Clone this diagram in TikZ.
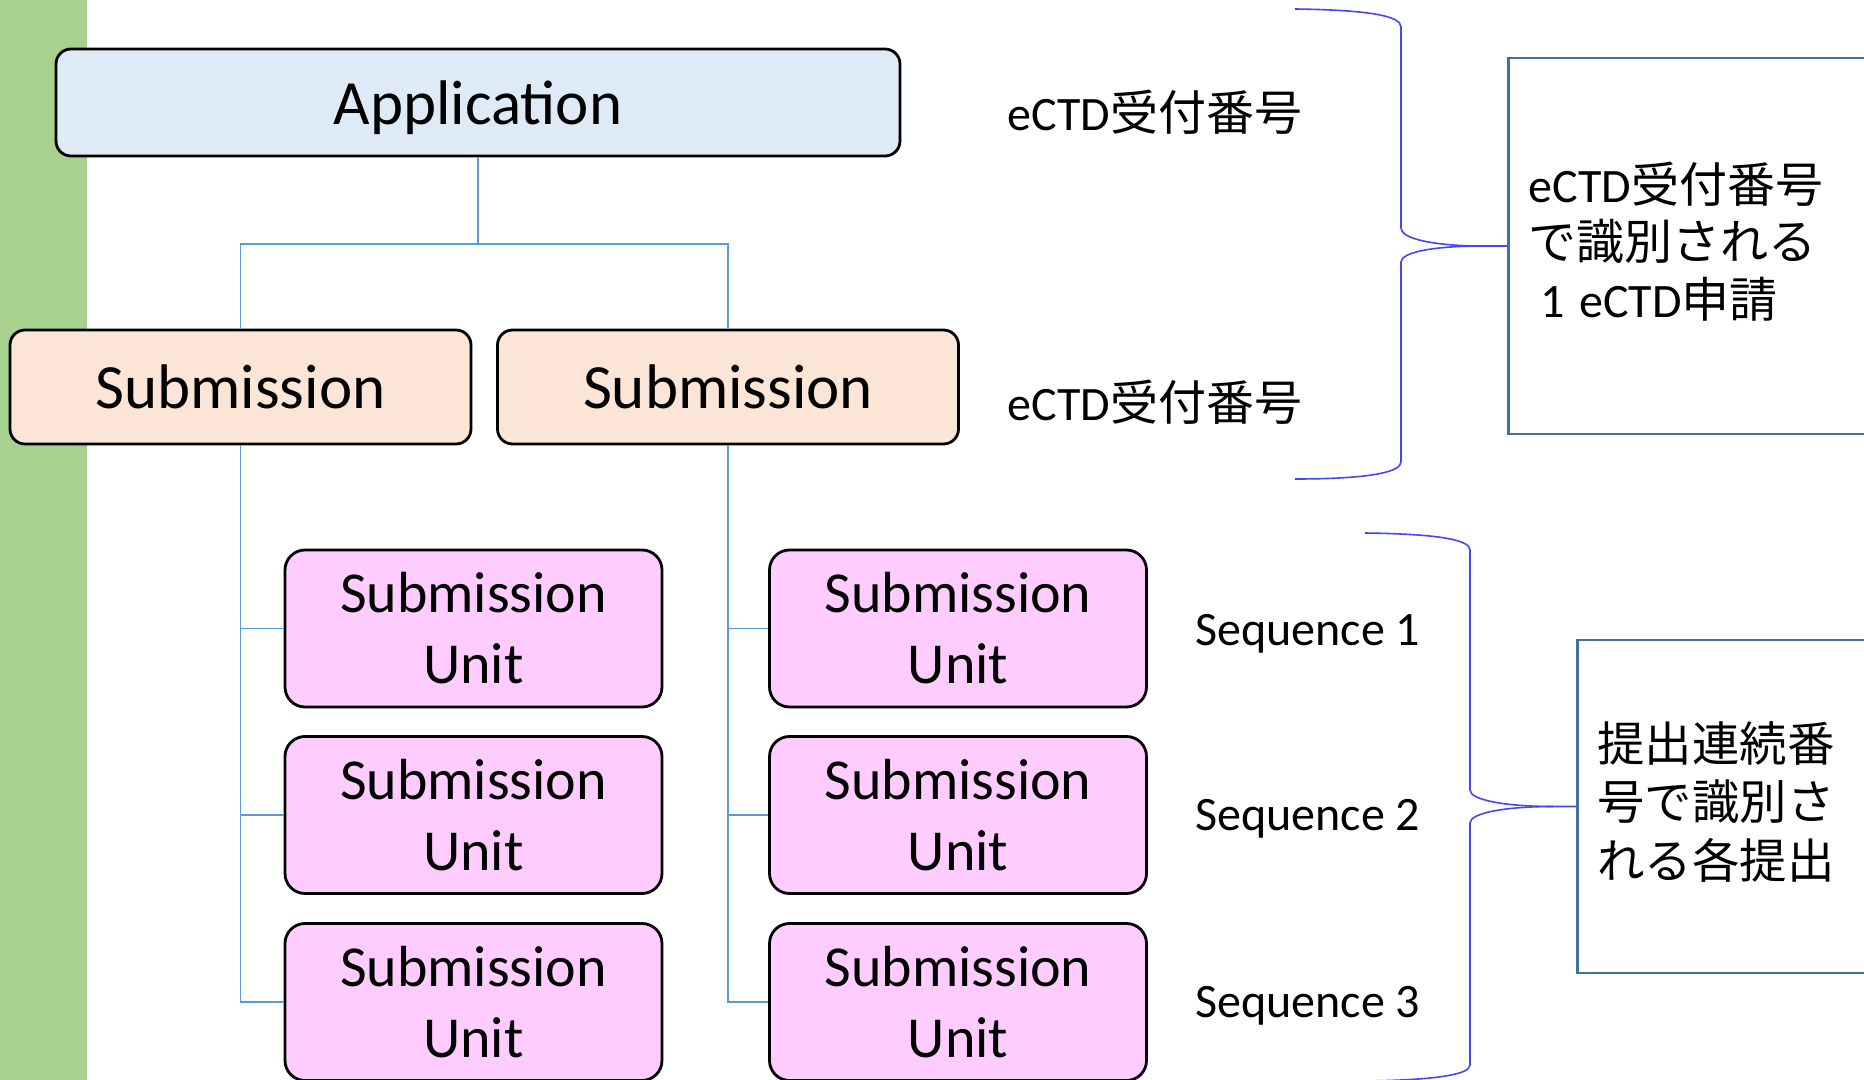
\documentclass[tikz,border=0pt]{standalone}
\usepackage{fontspec}
\setmainfont{Carlito}
\newfontfamily\jp{Noto Sans CJK JP}
\definecolor{appfill}{HTML}{DEEBF7}
\definecolor{subfill}{HTML}{FBE5D6}
\definecolor{sufill}{HTML}{FFCCFF}
\definecolor{barg}{HTML}{A9D18E}
\definecolor{conn}{HTML}{5B9BD5}
\definecolor{bracec}{HTML}{4545FF}
\definecolor{boxb}{HTML}{41719C}
\begin{document}
\begin{tikzpicture}[x=0.5pt,y=-0.5pt,
  appbox/.style={draw=black,line width=1.4pt,rounded corners=7.5pt,fill=appfill,
    minimum width=422pt,minimum height=53.5pt,inner sep=0pt,font=\fontsize{31.5}{38}\selectfont},
  subbox/.style={draw=black,line width=1.4pt,rounded corners=7.5pt,fill=subfill,
    minimum width=230.5pt,minimum height=57pt,inner sep=0pt,font=\fontsize{31.5}{38}\selectfont},
  unitbox/.style={draw=black,line width=1.4pt,rounded corners=10pt,fill=sufill,
    minimum width=188.5pt,minimum height=78.5pt,inner sep=0pt,align=center,font=\fontsize{29}{35.5}\selectfont},
  lab/.style={anchor=west,inner sep=0pt,font=\fontsize{24}{29}\selectfont},
  conline/.style={draw=conn,line width=0.9pt},
  braceline/.style={draw=bracec,line width=0.8pt},
  notebox/.style={draw=boxb,line width=1.4pt,fill=white,anchor=west,
    inner xsep=10pt,inner ysep=0pt}
]
\clip (0,0) rectangle (1864,1080);
\fill[barg] (0,0) rectangle (87,1080);

\node[appbox] (app) at (478,102.5) {\raisebox{-2.4pt}[\height][\depth]{Application}};
\node[subbox] (sub1) at (240.5,387) {Submission};
\node[subbox] (sub2) at (728,387) {Submission};

\foreach \c/\x in {1/473.5,2/958}{
  \node[unitbox] (su\c1) at (\x,628.5) {Submission\\Unit};
  \node[unitbox] (su\c2) at (\x,815) {Submission\\Unit};
  \node[unitbox] (su\c3) at (\x,1002) {Submission\\Unit};
}

\draw[conline] (app.south) -- ++(0,87) -| (sub1.north);
\draw[conline] (app.south) -- ++(0,87) -| (sub2.north);
\draw[conline] (sub1.south) |- (su13.west);
\draw[conline] (sub1.south) |- (su12.west);
\draw[conline] (sub1.south) |- (su11.west);
\draw[conline] (sub2.south) |- (su23.west);
\draw[conline] (sub2.south) |- (su22.west);
\draw[conline] (sub2.south) |- (su21.west);

\node[lab] (l1) at (1007,112) {eCTD{\jp 受付番号}};
\node[lab] (l2) at (1007,402) {eCTD{\jp 受付番号}};
\node[lab] (s1) at (1195,634) {Sequence 1};
\node[lab] (s2) at (1195,819) {Sequence 2};
\node[lab] (s3) at (1195,1006) {Sequence 3};

\node[notebox,minimum height=188pt,font=\fontsize{24}{28.75}\selectfont] (n1) at (1507,246)
  {\raisebox{2.4pt}[\height][\depth]{\parbox{200pt}{\raggedright
   eCTD{\jp 受付番号}\\{\jp で識別される}\\\hspace*{6pt}1\hspace{0.3em}eCTD{\jp 申請}}}};
\node[notebox,minimum height=166.5pt,font=\fontsize{23.7}{29.25}\selectfont] (n2) at (1576,806.5)
  {\raisebox{2.4pt}[\height][\depth]{\parbox{200pt}{\raggedright
   {\jp 提出連続番}\\{\jp 号で識別さ}\\{\jp れる各提出}}}};

\draw[braceline] (1295,9) .. controls (1370,10) and (1401,16) .. (1401,27)
  -- (1401,228) .. controls (1401,239) and (1435,246) .. (1482,246) -- (n1.west);
\draw[braceline] (1482,246) .. controls (1435,246) and (1401,252) .. (1401,262)
  -- (1401,462) .. controls (1401,472) and (1370,479) .. (1295,479);

\draw[braceline] (1365,533) .. controls (1440,534) and (1470,540) .. (1470,550)
  -- (1470,790) .. controls (1470,800) and (1505,806.5) .. (1553,806.5) -- (n2.west);
\draw[braceline] (1553,806.5) .. controls (1505,806.5) and (1470,813) .. (1470,823)
  -- (1470,1065) .. controls (1470,1074) and (1440,1080) .. (1365,1081);
\end{tikzpicture}
\end{document}
